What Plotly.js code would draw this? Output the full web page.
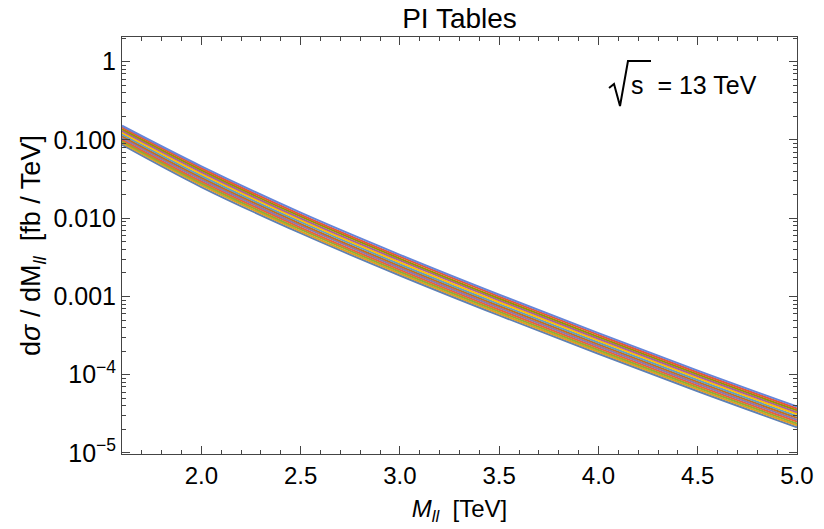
<!DOCTYPE html>
<html>
<head>
<meta charset="utf-8">
<script src="https://cdn.plot.ly/plotly-3.0.1.min.js"></script>
<style>
  html, body { margin: 0; padding: 0; background: #fff; }
  #chart { width: 824px; height: 529px; }
</style>
</head>
<body>
<div id="chart"></div>
<script>
// Dilepton invariant mass [TeV]
const mass = [1.6, 2.0, 2.5, 3.0, 3.5, 4.0, 4.5, 5.0];

// dσ/dM_ll [fb/TeV] for each PDF member
const member01 = [0.0869, 0.02500, 0.006427, 1.854e-3, 5.728e-4, 1.854e-4, 6.138e-5, 2.128e-5];
const member02 = [0.0914, 0.02642, 0.006792, 1.959e-3, 6.053e-4, 1.959e-4, 6.486e-5, 2.249e-5];
const member03 = [0.0962, 0.02793, 0.007178, 2.070e-3, 6.397e-4, 2.070e-4, 6.855e-5, 2.377e-5];
const member04 = [0.1012, 0.02951, 0.007586, 2.188e-3, 6.761e-4, 2.188e-4, 7.244e-5, 2.512e-5];
const member05 = [0.1064, 0.03119, 0.008017, 2.312e-3, 7.145e-4, 2.312e-4, 7.656e-5, 2.655e-5];
const member06 = [0.1119, 0.03296, 0.008472, 2.443e-3, 7.551e-4, 2.443e-4, 8.091e-5, 2.805e-5];
const member07 = [0.1178, 0.03483, 0.008954, 2.582e-3, 7.980e-4, 2.582e-4, 8.551e-5, 2.965e-5];
const member08 = [0.1239, 0.03681, 0.009462, 2.729e-3, 8.433e-4, 2.729e-4, 9.036e-5, 3.133e-5];
const member09 = [0.1303, 0.03890, 0.009954, 2.884e-3, 8.913e-4, 2.884e-4, 9.550e-5, 3.311e-5];
const member10 = [0.1371, 0.04111, 0.01052, 3.048e-3, 9.419e-4, 3.048e-4, 1.009e-4, 3.499e-5];
const member11 = [0.1442, 0.04345, 0.01112, 3.221e-3, 9.954e-4, 3.221e-4, 1.067e-4, 3.698e-5];
const member12 = [0.1517, 0.04592, 0.01175, 3.404e-3, 1.052e-3, 3.404e-4, 1.127e-4, 3.908e-5];

const members = [member01, member02, member03, member04, member05, member06,
                 member07, member08, member09, member10, member11, member12];

const memberColors = ['#5E81B5', '#E19C24', '#8FB032', '#EB6235', '#8778B3', '#C56E1A',
                      '#5D9EC7', '#FFBF00', '#A5609D', '#929600', '#E95536', '#6685D9'];

const yTickVals = [1, 0.1, 0.01, 0.001, 1e-4, 1e-5];
const yTickText = ['1', '0.100', '0.010', '0.001', '10<sup>−4</sup>', '10<sup>−5</sup>'];
const xTickVals = [2.0, 2.5, 3.0, 3.5, 4.0, 4.5, 5.0];
const xTickText = ['2.0', '2.5', '3.0', '3.5', '4.0', '4.5', '5.0'];

const traces = members.map((vals, i) => ({
  x: mass,
  y: vals,
  type: 'scatter',
  mode: 'lines',
  line: { color: memberColors[i], width: 2, shape: 'spline', smoothing: 1 },
  hoverinfo: 'skip',
  showlegend: false
}));

const font = 'Liberation Sans, Arial, Helvetica, sans-serif';
const frameColor = '#444';

const layout = {
  width: 824,
  height: 529,
  margin: { l: 122, r: 27, t: 37, b: 75 },
  paper_bgcolor: '#ffffff',
  plot_bgcolor: '#ffffff',
  font: { family: font, color: '#000', size: 24 },
  showlegend: false,
  title: {
    text: 'PI Tables',
    font: { family: font, size: 28, color: '#000' },
    x: 0.5, xref: 'paper', xanchor: 'center',
    y: 0.965, yref: 'container', yanchor: 'middle'
  },
  xaxis: {
    range: [1.6, 5.0],
    showgrid: false, zeroline: false,
    showline: true, linecolor: frameColor, linewidth: 1, mirror: 'ticks',
    ticks: 'inside', ticklen: 8, tickcolor: frameColor, tickwidth: 1,
    tickvals: xTickVals, ticktext: xTickText,
    tickfont: { family: font, size: 24, color: '#000' },
    minor: { dtick: 0.1, ticks: 'inside', ticklen: 4, tickcolor: frameColor, showgrid: false },
    title: {
      text: '<i>M<sub>ll</sub></i>  [TeV]',
      font: { family: font, size: 24, color: '#000' },
      standoff: 12
    }
  },
  yaxis: {
    type: 'log',
    range: [-5.013, 0.315],
    showgrid: false, zeroline: false,
    showline: true, linecolor: frameColor, linewidth: 1, mirror: 'ticks',
    ticks: 'inside', ticklen: 8, tickcolor: frameColor, tickwidth: 1,
    tickvals: yTickVals, ticktext: yTickText,
    tickfont: { family: font, size: 25, color: '#000' },
    minor: { dtick: 'D1', ticks: 'inside', ticklen: 4, tickcolor: frameColor, showgrid: false },
    title: {
      text: 'd<i>σ</i> / dM<sub><i>ll</i></sub>  [fb / TeV]',
      font: { family: font, size: 27, color: '#000' },
      standoff: 4
    }
  },
  annotations: [{
    xref: 'paper', yref: 'paper',
    x: 0.7511, y: 0.886, xanchor: 'left', yanchor: 'middle',
    showarrow: false,
    text: 's  = 13 TeV',
    font: { family: font, size: 25, color: '#000' }
  }],
  shapes: [{
    // radical sign of √s (decoration)
    type: 'path', xref: 'paper', yref: 'paper',
    path: 'M 0.7215 0.8777 L 0.7289 0.8873 L 0.7378 0.8345 L 0.7496 0.9424 L 0.7837 0.9424',
    line: { color: '#000', width: 2 }
  }]
};

Plotly.newPlot('chart', traces, layout, { displayModeBar: false, staticPlot: true });
</script>
</body>
</html>
